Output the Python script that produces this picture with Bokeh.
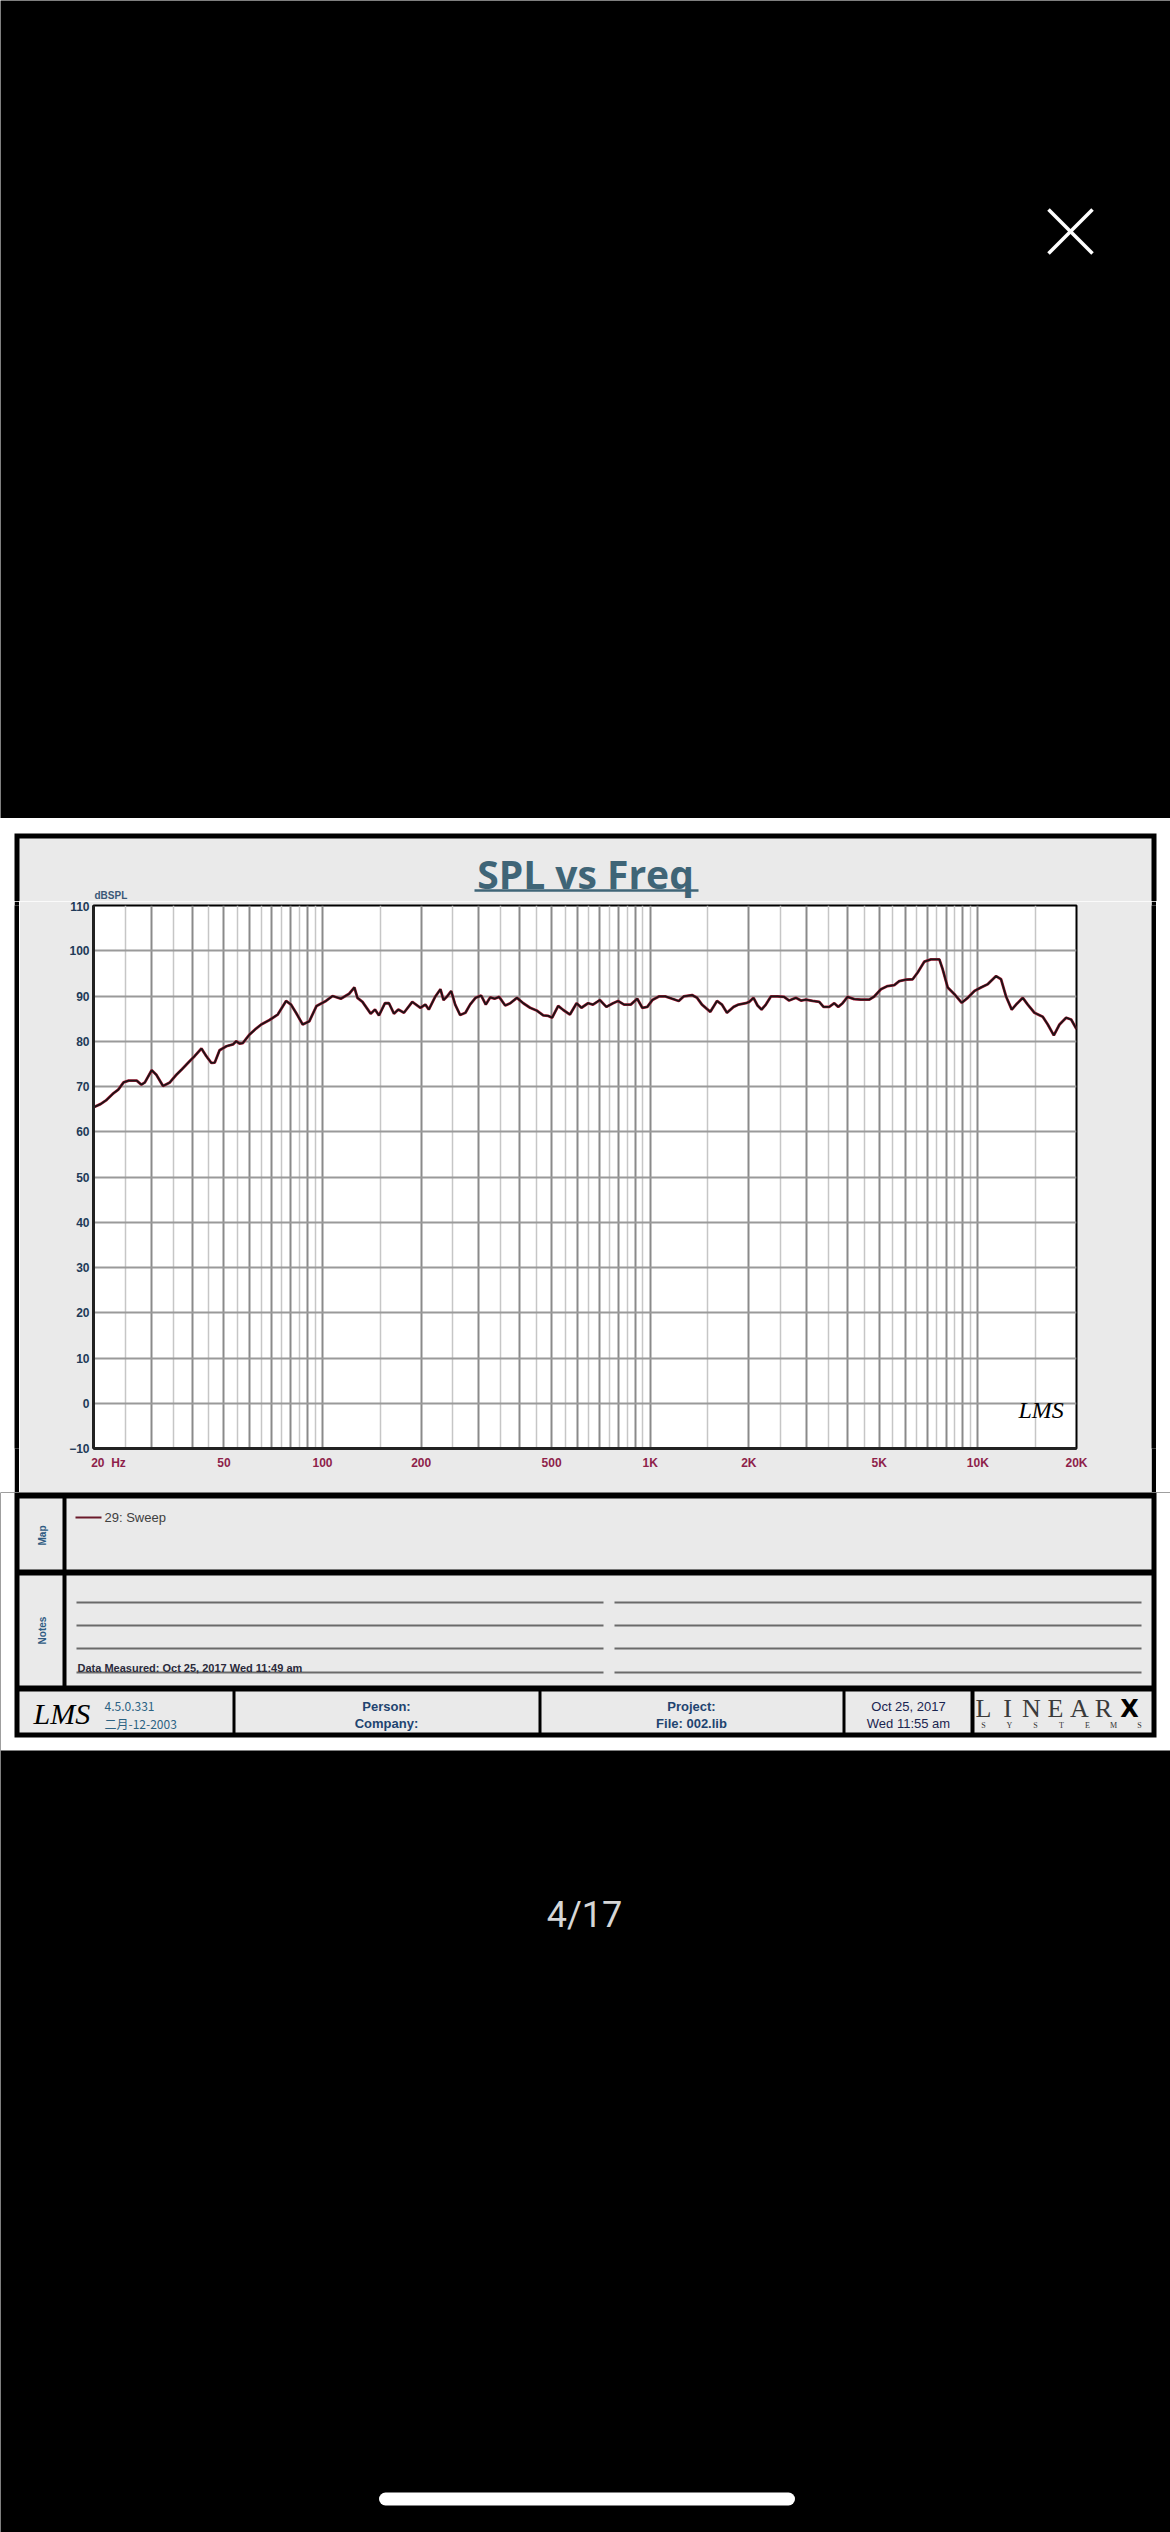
import math
from bokeh.plotting import figure
from bokeh.layouts import column, row
from bokeh.models import Range1d, FixedTicker, Label
from bokeh.core.properties import value
from bokeh.embed import file_html
from bokeh.resources import INLINE

# SPL response of "29: Sweep"
freq_hz = [20, 21, 21.9, 23, 23.8, 24.7, 25.6, 27.1, 28, 28.7, 30.1, 31.1, 32.6, 34.2, 35.8,
           37.1, 39.3, 40.7, 42.7, 44.2, 45.8, 46.9, 48.5, 50.9, 53.3, 54.5, 55.8, 57.1, 59.9,
           62.7, 65, 68.9, 73, 77.4, 80.1, 83, 87, 91.1, 95.9, 102.4, 107.3, 113.7, 120.6,
           125.1, 127.8, 132.4, 140.3, 144.6, 148.7, 155.1, 159.5, 165.2, 170.3, 177.2, 187.9,
           199, 206, 211, 221, 229, 234, 240, 247, 254, 263, 273, 282, 293, 305, 315, 325, 335,
           346, 361, 374, 392, 410, 430, 450, 472, 489, 502, 524, 543, 569, 596, 617, 646, 669,
           702, 735, 770, 798, 832, 872, 913, 946, 980, 1015, 1063, 1113, 1166, 1222, 1265,
           1342, 1390, 1439, 1526, 1599, 1655, 1715, 1797, 1860,
           1958, 2005, 2067, 2126, 2187, 2254, 2335, 2446, 2563, 2655, 2783, 2884, 2986, 3129,
           3280, 3381, 3519, 3645, 3749, 3865, 4003, 4194, 4397, 4662, 4829, 5061, 5303, 5559,
           5758, 6035, 6325, 6551, 6867, 7194, 7630, 7810, 8090, 8479, 8927, 9313, 9758, 10224,
           10714, 11362, 11769, 12190, 12688, 13081, 13708, 14200, 14883, 15778, 16346, 17053,
           17747, 18596, 19262, 20000]
spl_db = [65.4, 66.1, 67, 68.5, 69.3, 70.9, 71.3, 71.3, 70.4, 70.9, 73.6, 72.6, 70.1, 70.9, 72.6,
          73.7, 75.6, 76.7, 78.4, 76.7, 75.2, 75.3, 78, 78.9, 79.3, 80, 79.5, 79.6, 81.5,
          82.8, 83.7, 84.7, 85.9, 88.9, 88.1, 86.3, 83.7, 84.4, 87.8, 88.9, 90, 89.4, 90.5,
          91.9, 89.6, 88.7, 86.1, 87, 85.7, 88.4, 88.4, 86.1, 87, 86.3, 88.7,
          87.4, 88.1, 87.0, 89.9, 91.5, 89.1, 89.9, 91.1, 88.1, 85.8, 86.3, 88.1, 89.6, 90.1, 88.1, 89.7, 89.4,
          89.8, 87.9, 88.4, 89.6, 88.4, 87.4, 86.8, 85.7, 85.6, 85.2, 87.8, 86.9, 85.9, 88.4, 87.4, 88.4, 88.1,
          89.1, 87.6, 88.4, 88.9, 88.1, 88.1, 89.4, 87.4, 87.6, 89.1, 89.9, 89.9, 89.4, 88.9, 89.9,
          90.2, 89.6, 88.1, 86.5, 88.9, 88.1, 86.3, 87.6, 88.1,
          88.4, 88.7, 89.6, 87.9, 87.0, 88.1, 89.9, 89.9, 89.8, 89.0, 89.6, 89.0, 89.2, 88.9,
          88.7, 87.6, 87.6, 88.4, 87.6, 88.4, 89.8, 89.3, 89.2, 89.2, 89.9, 91.5, 92.2, 92.4,
          93.3, 93.6, 93.7, 95.2, 97.6, 98.1, 98.1, 95.9, 91.9, 90.4, 88.5, 89.6, 91.1, 91.9,
          92.6, 94.4, 93.7, 89.9, 87.0, 88.1, 89.6, 88.1, 86.3, 85.4, 83.7, 81.3,
          83.7, 85.2, 84.8, 82.7]

NB = "\u00a0"
x_ticks = [20, 50, 100, 200, 500, 1000, 2000, 5000, 10000, 20000]
x_tick_labels = [NB * 9 + "20" + NB * 2 + "Hz", "50", "100", "200", "500", "1K", "2K", "5K", "10K", "20K"]
y_ticks = list(range(-10, 111, 10))

title_text = "SPL vs Freq"
y_unit = "dBSPL"
legend_label = "29: Sweep"
measured_text = "Data Measured: Oct 25, 2017  Wed 11:49 am"
footer_line1 = ["Person:", "Project:", "Oct 25, 2017"]
footer_line2 = ["Company:", "File: 002.lib", "Wed 11:55 am"]
version_lines = ["4.5.0.331", "二月-12-2003"]

PANEL = "#eaeaea"
W = 1170
CHART_H = 591


def pixel_fig(w, h, bg):
    f = figure(width=w, height=h, x_range=Range1d(0, w), y_range=Range1d(h, 0),
               output_backend="svg", toolbar_location=None, tools="", title=None,
               min_border=0, background_fill_color=bg, border_fill_color=bg,
               outline_line_color=None, x_axis_location=None, y_axis_location=None)
    f.grid.visible = False
    return f


def side_strip(w, color):
    # same vertical borders as the chart so the row keeps every piece full height
    f = figure(width=w, height=CHART_H, output_backend="svg", toolbar_location=None, tools="",
               title=None, min_border_left=0, min_border_right=0, min_border_top=4,
               min_border_bottom=44, background_fill_color=color, border_fill_color=color,
               outline_line_color=None, x_axis_location=None, y_axis_location=None)
    f.grid.visible = False
    return f


# black phone screen above the picture, with the close icon
top = pixel_fig(W, 818, "black")
top.line([1048, 1092], [209, 253], line_color="white", line_width=3.5)
top.line([1048, 1092], [253, 209], line_color="white", line_width=3.5)

# title strip
ts = pixel_fig(W, 83, "white")
ts.quad(left=14, right=1156, top=15, bottom=83, fill_color="black", line_color=None)
ts.quad(left=19, right=1151, top=20, bottom=83, fill_color=PANEL, line_color=None)
ts.text(x=[585], y=[55], text=[title_text], text_font=value("Open Sans"), text_font_style="bold",
        text_font_size="39px", text_color="#3f6577", text_align="center", text_baseline="middle")
ts.line([474, 698], [72, 72], line_color="#3f6577", line_width=2.5)
ts.text(x=[94], y=[77], text=[y_unit], text_font=value("Liberation Sans"), text_font_style="bold",
        text_font_size="10px", text_color="#3a5877", text_baseline="middle")

# the chart itself
p = figure(width=1132, height=CHART_H, x_axis_type="log", x_range=Range1d(20, 20000),
           y_range=Range1d(-10, 110), output_backend="svg", toolbar_location=None, tools="",
           title=None, min_border_left=74, min_border_right=75, min_border_top=4,
           min_border_bottom=44, background_fill_color="white", border_fill_color=PANEL,
           outline_line_color="black", outline_line_width=2)

grid_major = [k * 10 ** n for n in range(1, 5) for k in range(1, 10) if 20 <= k * 10 ** n <= 20000]
grid_minor = [(k + 0.5) * 10 ** n for n in range(1, 5) for k in range(1, 10) if 20 <= (k + 0.5) * 10 ** n <= 20000]
p.xgrid.ticker = FixedTicker(ticks=grid_major, minor_ticks=grid_minor)
p.xgrid.grid_line_color = "#8a8a8a"
p.xgrid.grid_line_width = 2
p.xgrid.minor_grid_line_color = "#c6c6c6"
p.xgrid.minor_grid_line_width = 1.5
p.ygrid.ticker = FixedTicker(ticks=y_ticks)
p.ygrid.grid_line_color = "#9a9a9a"
p.ygrid.grid_line_width = 2

p.xaxis.ticker = FixedTicker(ticks=x_ticks)
p.xaxis.major_label_overrides = dict(zip(x_ticks, x_tick_labels))
p.yaxis.ticker = FixedTicker(ticks=y_ticks)
p.axis.major_tick_out = 0
p.axis.major_tick_in = 0
p.axis.minor_tick_line_color = None
p.axis.axis_line_width = 3
p.axis.axis_line_color = "#222222"
p.axis.major_label_text_font = "Liberation Sans"
p.axis.major_label_text_font_style = "bold"
p.axis.major_label_text_font_size = "12px"
p.xaxis.major_label_text_color = "#8e1f4a"
p.yaxis.major_label_text_color = "#223a58"
p.xaxis.major_label_standoff = 7
p.yaxis.major_label_standoff = 4

p.line(freq_hz, spl_db, line_color="#b0203c", line_width=2.8)
p.line(freq_hz, spl_db, line_color="#1c1416", line_width=1.8)

p.add_layout(Label(x=13300, y=-1.6, text="LMS", text_font="Liberation Serif",
                   text_font_style="italic", text_font_size="24px", text_color="black",
                   text_baseline="middle"))

middle = row(side_strip(14, "white"), side_strip(5, "black"), p,
             side_strip(5, "black"), side_strip(14, "white"))

# map / notes / footer boxes and the black screen below
bt = pixel_fig(W, 1040, "black")
bt.quad(left=0, right=W, top=0, bottom=258, fill_color="white", line_color=None)
bt.quad(left=14, right=1156, top=0, bottom=245, fill_color="black", line_color=None)
cell_l = [19, 66, 19, 66, 19, 235, 541, 845, 974]
cell_r = [62, 1151, 62, 1151, 232, 538, 842, 970, 1151]
cell_t = [6, 6, 83, 83, 199, 199, 199, 199, 199]
cell_b = [77, 77, 193, 193, 240, 240, 240, 240, 240]
bt.quad(left=cell_l, right=cell_r, top=cell_t, bottom=cell_b, fill_color=PANEL, line_color=None)

bt.text(x=[42, 42], y=[43, 138], text=["Map", "Notes"], angle=math.pi / 2,
        text_font=value("Liberation Sans"), text_font_style="bold", text_font_size="10px",
        text_color="#2f5b82", text_align="center", text_baseline="middle")

bt.line([75, 101], [25, 25], line_color="#6a1a2a", line_width=2)
bt.text(x=[104], y=[25], text=[legend_label], text_font=value("Liberation Sans"),
        text_font_size="13px", text_color="#404040", text_baseline="middle")

note_y = [110, 133, 156, 180]
bt.segment(x0=[76] * 4 + [614] * 4, x1=[603] * 4 + [1141] * 4, y0=note_y * 2, y1=note_y * 2,
           line_color="#6a6a6a", line_width=1.8)
bt.text(x=[77], y=[175], text=[measured_text], text_font=value("Liberation Sans"),
        text_font_style="bold", text_font_size="11px", text_color="#2b2b3b",
        text_baseline="middle")

bt.text(x=[33], y=[221], text=["LMS"], text_font=value("Liberation Serif"), text_font_style="italic",
        text_font_size="30px", text_color="black", text_baseline="middle")
bt.text(x=[104, 104], y=[214, 231], text=version_lines, text_font=value("Noto Sans CJK SC"),
        text_font_size="12px", text_color="#2c6283", text_baseline="middle")
bt.text(x=[386, 691], y=[214, 214], text=footer_line1[:2], text_font=value("Liberation Sans"),
        text_font_style="bold", text_font_size="13px", text_color="#1f4470",
        text_align="center", text_baseline="middle")
bt.text(x=[386, 691], y=[231, 231], text=footer_line2[:2], text_font=value("Liberation Sans"),
        text_font_style="bold", text_font_size="13px", text_color="#1f4470",
        text_align="center", text_baseline="middle")
bt.text(x=[908, 908], y=[214, 231], text=[footer_line1[2], footer_line2[2]],
        text_font=value("Liberation Sans"), text_font_size="13px", text_color="#1a2550",
        text_align="center", text_baseline="middle")

brand = list("LINEAR")
bt.text(x=[983 + 24 * i for i in range(6)], y=[216] * 6, text=brand,
        text_font=value("Liberation Serif"), text_font_size="26px", text_color="#3a3a3a",
        text_align="center", text_baseline="middle")
bt.text(x=[1129], y=[216], text=["X"], text_font=value("DejaVu Sans"), text_font_style="bold",
        text_font_size="24px", text_color="black", text_align="center", text_baseline="middle")
sub = list("SYSTEMS")
bt.text(x=[983 + 26 * i for i in range(7)], y=[233] * 7, text=sub,
        text_font=value("Liberation Serif"), text_font_size="8px", text_color="#333333",
        text_align="center", text_baseline="middle")

bt.text(x=[584], y=[422], text=["4/17"], text_font=value("Roboto"), text_font_size="36px",
        text_color="#d6d6d6", text_align="center", text_baseline="middle")
bt.line([385, 788], [1006.5, 1006.5], line_color="white", line_width=13, line_cap="round")

layout = column(top, ts, middle, bt)
open("out.html", "w").write(file_html(layout, INLINE))
